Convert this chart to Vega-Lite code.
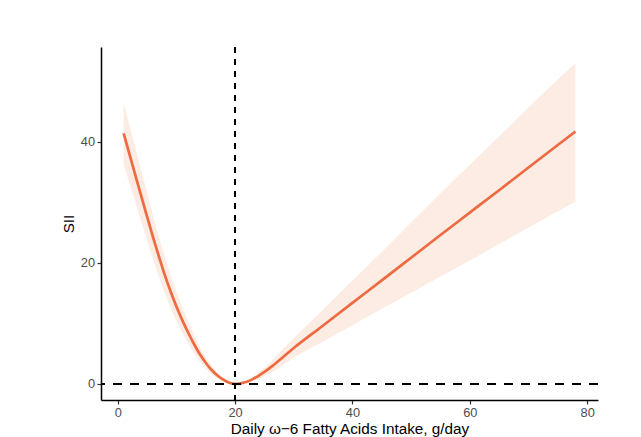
{
  "$schema": "https://vega.github.io/schema/vega-lite/v6.json",
  "width": 497,
  "height": 353,
  "autosize": {"type": "none"},
  "padding": {"left": 101, "top": 47, "right": 43, "bottom": 37},
  "background": "white",
  "config": {
    "view": {"stroke": null},
    "font": "Liberation Sans",
    "axis": {
      "grid": false,
      "domainColor": "black",
      "domainWidth": 1.5,
      "tickColor": "#333333",
      "tickWidth": 1.2,
      "tickSize": 4,
      "labelColor": "#4D4D4D",
      "labelFontSize": 12.8,
      "labelFont": "Liberation Sans",
      "titleFont": "Liberation Sans",
      "titleFontSize": 15.3,
      "titleFontWeight": "normal",
      "titleColor": "black",
      "labelPadding": 2.5
    }
  },
  "data": {
    "values": [
      {"x": 1, "y": 41.4, "lo": 36.2, "hi": 46.4},
      {"x": 2, "y": 37.95, "lo": 33.2, "hi": 42.7},
      {"x": 3, "y": 34.5, "lo": 30.0, "hi": 39.0},
      {"x": 4, "y": 31.05, "lo": 26.85, "hi": 35.25},
      {"x": 5, "y": 27.65, "lo": 23.75, "hi": 31.55},
      {"x": 6, "y": 24.3, "lo": 20.7, "hi": 27.9},
      {"x": 7, "y": 21.1, "lo": 17.8, "hi": 24.4},
      {"x": 8, "y": 18.05, "lo": 15.05, "hi": 21.05},
      {"x": 9, "y": 15.3, "lo": 12.6, "hi": 18.0},
      {"x": 10, "y": 12.8, "lo": 10.4, "hi": 15.2},
      {"x": 11, "y": 10.55, "lo": 8.45, "hi": 12.65},
      {"x": 12, "y": 8.5, "lo": 6.7, "hi": 10.3},
      {"x": 13, "y": 6.6, "lo": 5.1, "hi": 8.1},
      {"x": 14, "y": 4.9, "lo": 3.7, "hi": 6.1},
      {"x": 15, "y": 3.5, "lo": 2.55, "hi": 4.45},
      {"x": 16, "y": 2.3, "lo": 1.6, "hi": 3.0},
      {"x": 17, "y": 1.4, "lo": 0.9, "hi": 1.9},
      {"x": 18, "y": 0.7, "lo": 0.4, "hi": 1.0},
      {"x": 19, "y": 0.2, "lo": 0.08, "hi": 0.32},
      {"x": 20, "y": 0.0, "lo": 0.0, "hi": 0.0},
      {"x": 21, "y": 0.1, "lo": 0.05, "hi": 0.15},
      {"x": 22, "y": 0.35, "lo": 0.2, "hi": 0.5},
      {"x": 23, "y": 0.8, "lo": 0.5, "hi": 1.1},
      {"x": 24, "y": 1.35, "lo": 0.85, "hi": 1.85},
      {"x": 25, "y": 2.0, "lo": 1.3, "hi": 2.7},
      {"x": 26, "y": 2.7, "lo": 1.8, "hi": 3.6},
      {"x": 28, "y": 4.3, "lo": 3.0, "hi": 5.6},
      {"x": 30, "y": 5.95, "lo": 4.35, "hi": 7.55},
      {"x": 32, "y": 7.45, "lo": 5.45, "hi": 9.45},
      {"x": 34, "y": 8.9, "lo": 6.5, "hi": 11.3},
      {"x": 36, "y": 10.4, "lo": 7.55, "hi": 13.25},
      {"x": 40, "y": 13.4, "lo": 9.7, "hi": 17.1},
      {"x": 45, "y": 17.1, "lo": 12.4, "hi": 21.8},
      {"x": 50, "y": 20.85, "lo": 15.05, "hi": 26.65},
      {"x": 55, "y": 24.6, "lo": 17.75, "hi": 31.45},
      {"x": 60, "y": 28.3, "lo": 20.4, "hi": 36.2},
      {"x": 65, "y": 32.0, "lo": 23.1, "hi": 40.9},
      {"x": 70, "y": 35.75, "lo": 25.85, "hi": 45.65},
      {"x": 78, "y": 41.7, "lo": 30.1, "hi": 53.0}
    ]
  },
  "layer": [
    {
      "mark": {"type": "area", "color": "#FCECE3", "opacity": 1, "interpolate": "monotone"},
      "encoding": {
        "x": {
          "field": "x",
          "type": "quantitative",
          "scale": {"domain": [-2.85, 81.85], "nice": false, "zero": false},
          "axis": {"values": [0, 20, 40, 60, 80], "title": "Daily ω−6 Fatty Acids Intake, g/day", "titlePadding": 2}
        },
        "y": {
          "field": "lo",
          "type": "quantitative",
          "scale": {"domain": [-2.65, 55.65], "nice": false, "zero": false},
          "axis": {"values": [0, 20, 40], "title": "SII", "titlePadding": 4}
        },
        "y2": {"field": "hi"}
      }
    },
    {
      "mark": {"type": "line", "color": "#EE6A40", "strokeWidth": 2.7, "interpolate": "monotone"},
      "encoding": {
        "x": {"field": "x", "type": "quantitative"},
        "y": {"field": "y", "type": "quantitative"}
      }
    },
    {
      "mark": {"type": "rule", "color": "black", "strokeDash": [6, 6], "strokeWidth": 1.2},
      "encoding": {"x": {"datum": 20}}
    },
    {
      "mark": {"type": "rule", "color": "black", "strokeDash": [9, 8], "strokeWidth": 2},
      "encoding": {"y": {"datum": 0}}
    }
  ]
}
